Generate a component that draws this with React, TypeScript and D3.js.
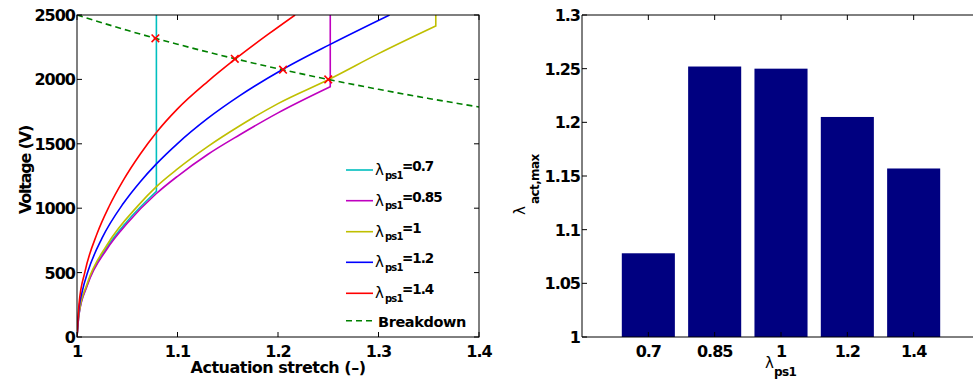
import React from "react";
import * as d3 from "d3";

type Pt = [number, number];

// Left panel: voltage vs actuation stretch
const curve07: Pt[] = [[1, 0], [1.002, 180], [1.01, 402], [1.03, 697], [1.05, 899], [1.079, 1132], [1.079, 2500]];
const curve085: Pt[] = [[1, 0], [1.002, 176], [1.01, 395], [1.03, 685], [1.05, 883], [1.079, 1114], [1.1, 1248], [1.13, 1417], [1.162, 1570], [1.2, 1740], [1.252, 1943], [1.252, 2500]];
const curve1: Pt[] = [[1, 0], [1.002, 185], [1.01, 412], [1.03, 716], [1.061, 1022], [1.079, 1168], [1.1, 1305], [1.13, 1478], [1.162, 1640], [1.2, 1812], [1.252, 2005], [1.3, 2200], [1.357, 2415], [1.357, 2500]];
const curve12: Pt[] = [[1, 0], [1.002, 219], [1.005, 346], [1.011, 512], [1.025, 769], [1.046, 1036], [1.063, 1206], [1.079, 1344], [1.1, 1502], [1.13, 1697], [1.162, 1874], [1.205, 2079], [1.252, 2272], [1.311, 2500]];
const curve14: Pt[] = [[1, 0], [1.002, 255], [1.008, 509], [1.02, 803], [1.032, 1015], [1.046, 1216], [1.063, 1421], [1.079, 1588], [1.1, 1771], [1.13, 1983], [1.157, 2155], [1.19, 2349], [1.217, 2500]];
const breakdown: Pt[] = [[1, 2500], [1.05, 2381], [1.1, 2273], [1.15, 2174], [1.2, 2083], [1.25, 2000], [1.3, 1923], [1.35, 1852], [1.4, 1786]];
const failurePts: Pt[] = [[1.078, 2319], [1.157, 2160], [1.205, 2075], [1.25, 2000]];

const seriesNames = ["0.7", "0.85", "1", "1.2", "1.4"];
const seriesColors = ["#00BFBF", "#BF00BF", "#BFBF00", "#0000FF", "#FF0000"];
const seriesData = [curve07, curve085, curve1, curve12, curve14];

const xTicksL = [1, 1.1, 1.2, 1.3, 1.4];
const yTicksL = [0, 500, 1000, 1500, 2000, 2500];

// Right panel: max actuation stretch per pre-stretch
const preStretch = ["0.7", "0.85", "1", "1.2", "1.4"];
const maxStretch = [1.078, 1.252, 1.25, 1.205, 1.157];
const yTicksR = [1, 1.05, 1.1, 1.15, 1.2, 1.25, 1.3];
const yTickLabelsR = ["1", "1.05", "1.1", "1.15", "1.2", "1.25", "1.3"];

const FONT = "'DejaVu Sans', sans-serif";

export default function App() {
  const W = 973, H = 380;
  const xL = d3.scaleLinear().domain([1, 1.4]).range([77, 479]);
  const yL = d3.scaleLinear().domain([0, 2500]).range([337, 15]);
  const xR = d3.scaleLinear().domain([0, 6]).range([582, 980]);
  const yR = d3.scaleLinear().domain([1, 1.3]).range([337, 15]);
  const barW = xR(0.8) - xR(0);

  const lineGen = d3.line<Pt>().x(d => xL(d[0])).y(d => yL(d[1])).curve(d3.curveMonotoneX);
  const makePath = (pts: Pt[]) => {
    const last = pts[pts.length - 1];
    const prev = pts[pts.length - 2];
    if (last[0] === prev[0]) {
      return lineGen(pts.slice(0, -1)) + `L${xL(last[0])},${yL(last[1])}`;
    }
    return lineGen(pts) as string;
  };
  const bdPath = lineGen(breakdown) as string;

  const tickStyle: React.CSSProperties = { fontFamily: FONT, fontWeight: "bold", fontSize: 16, letterSpacing: -1 };
  const legendX = 346;
  const legendRows = [170, 200.7, 231.7, 262.3, 293.3];

  return (
    <svg width={W} height={H} style={{ position: "absolute", left: 0, top: 0, background: "#fff" }}>
      <defs>
        <clipPath id="clipL"><rect x={77} y={15} width={402} height={322} /></clipPath>
      </defs>
      <rect x={0} y={0} width={W} height={H} fill="#fff" />

      {/* LEFT PANEL */}
      <g clipPath="url(#clipL)">
        {seriesData.map((pts, i) => (
          <path key={i} d={makePath(pts)} fill="none" stroke={seriesColors[i]} strokeWidth={1.6} />
        ))}
        <path d={bdPath} fill="none" stroke="#008000" strokeWidth={1.6} strokeDasharray="6,4" />
        {failurePts.map((p, i) => {
          const cx = xL(p[0]), cy = yL(p[1]), s = 3.8;
          return (
            <path key={i} d={`M${cx - s},${cy - s}L${cx + s},${cy + s}M${cx - s},${cy + s}L${cx + s},${cy - s}`} stroke="#FF0000" strokeWidth={1.6} />
          );
        })}
      </g>
      <rect x={77} y={15} width={402} height={322} fill="none" stroke="#000" strokeWidth={1} />
      {xTicksL.map((t, i) => (
        <g key={i}>
          <line x1={xL(t)} x2={xL(t)} y1={337} y2={332} stroke="#000" />
          <line x1={xL(t)} x2={xL(t)} y1={15} y2={20} stroke="#000" />
          <text x={xL(t)} y={357} textAnchor="middle" style={tickStyle}>{String(t)}</text>
        </g>
      ))}
      {yTicksL.map((t, i) => (
        <g key={i}>
          <line x1={77} x2={82} y1={yL(t)} y2={yL(t)} stroke="#000" />
          <line x1={479} x2={474} y1={yL(t)} y2={yL(t)} stroke="#000" />
          <text x={75} y={yL(t) + 6} textAnchor="end" style={tickStyle}>{String(t)}</text>
        </g>
      ))}
      <text x={278} y={373} textAnchor="middle" style={{ fontFamily: FONT, fontWeight: "bold", fontSize: 16, letterSpacing: -0.5 }}>Actuation stretch (–)</text>
      <text transform="translate(31,170) rotate(-90)" textAnchor="middle" style={{ fontFamily: FONT, fontWeight: "bold", fontSize: 16, letterSpacing: -1.2 }}>Voltage (V)</text>

      {/* legend */}
      {seriesNames.map((n, i) => {
        const y = legendRows[i];
        return (
          <g key={i}>
            <line x1={legendX} x2={legendX + 27} y1={y} y2={y} stroke={seriesColors[i]} strokeWidth={1.6} />
            <text x={375} y={y + 5} style={{ fontFamily: FONT, fontSize: 15 }}>λ</text>
            <text x={385} y={y + 8.5} style={{ fontFamily: FONT, fontWeight: "bold", fontSize: 10, letterSpacing: -0.8 }}>ps1</text>
            <text x={402} y={y + 1} style={{ fontFamily: FONT, fontWeight: "bold", fontSize: 13.5, letterSpacing: -1 }}>={n}</text>
          </g>
        );
      })}
      <line x1={legendX} x2={legendX + 27} y1={320.7} y2={320.7} stroke="#008000" strokeWidth={1.6} strokeDasharray="6,4" />
      <text x={378} y={326.5} style={{ fontFamily: FONT, fontWeight: "bold", fontSize: 14.5, letterSpacing: -0.4 }}>Breakdown</text>

      {/* RIGHT PANEL */}
      {maxStretch.map((v, i) => (
        <rect key={i} x={xR(i + 1) - barW / 2} y={yR(v)} width={barW} height={yR(1) - yR(v)} fill="#000080" />
      ))}
      <line x1={582} x2={973} y1={15} y2={15} stroke="#000" />
      <line x1={582} x2={973} y1={337} y2={337} stroke="#000" />
      <line x1={582} x2={582} y1={15} y2={337} stroke="#000" />
      {preStretch.map((n, i) => (
        <g key={i}>
          <line x1={xR(i + 1)} x2={xR(i + 1)} y1={15} y2={20} stroke="#000" />
          <line x1={xR(i + 1)} x2={xR(i + 1)} y1={337} y2={332} stroke="#000" />
          <text x={xR(i + 1)} y={357} textAnchor="middle" style={tickStyle}>{n}</text>
        </g>
      ))}
      {yTicksR.map((t, i) => (
        <g key={i}>
          <line x1={582} x2={587} y1={yR(t)} y2={yR(t)} stroke="#000" />
          <text x={580} y={yR(t) + 6} textAnchor="end" style={tickStyle}>{yTickLabelsR[i]}</text>
        </g>
      ))}
      <text x={765} y={368} style={{ fontFamily: FONT, fontSize: 15 }}>λ</text>
      <text x={774} y={376} style={{ fontFamily: FONT, fontWeight: "bold", fontSize: 12, letterSpacing: -0.6 }}>ps1</text>
      <g transform="translate(525,179) rotate(-90)">
        <text x={-36} y={0} style={{ fontFamily: FONT, fontSize: 15 }}>λ</text>
        <text x={-25} y={14} style={{ fontFamily: FONT, fontWeight: "bold", fontSize: 12, letterSpacing: -0.6 }}>act,max</text>
      </g>
    </svg>
  );
}
